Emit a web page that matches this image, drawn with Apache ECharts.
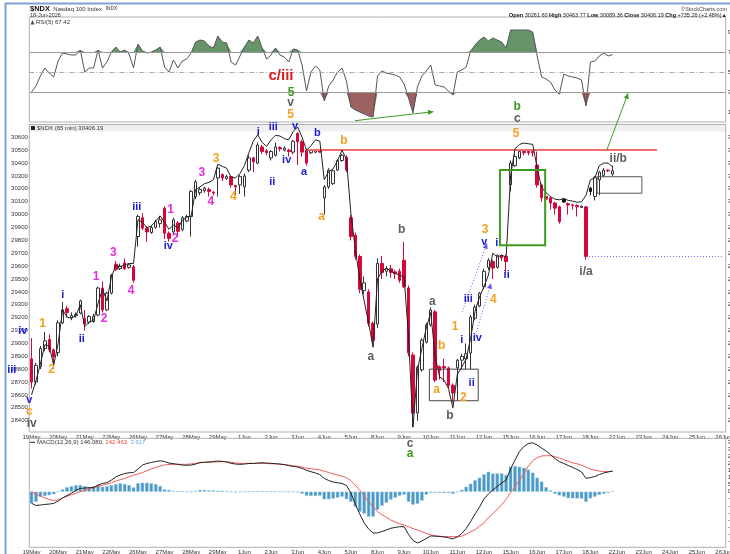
<!DOCTYPE html>
<html><head><meta charset="utf-8">
<script src="https://cdn.jsdelivr.net/npm/echarts@6/dist/echarts.min.js"></script>
<style>html,body{margin:0;padding:0;background:#fff;}#c{width:730px;height:554px;}</style>
</head><body><div id="c"></div>
<script>
// ---------------- DATA ----------------
const dayLabels = ['19May','20May','21May','22May','26May','27May','28May','29May','1Jun','2Jun','3Jun','4Jun','5Jun','8Jun','9Jun','10Jun','11Jun','12Jun','15Jun','16Jun','17Jun','18Jun','22Jun','23Jun','24Jun','25Jun','26Jun'];
const barsPerDay = 6;
// 65-min candles: [open, close, low, high]
const ohlc = [
[28880,28700,28650,29040],[28700,28830,28680,28850],[28820,28960,28800,28980],[28960,29020,28940,29090],[29030,28950,28930,29070],[28950,28895,28800,28960],
[28930,29160,28900,29180],[29160,29260,29150,29320],[29270,29240,29200,29290],[29200,29215,29180,29240],[29215,29225,29200,29240],[29235,29330,29225,29340],
[29195,29150,29100,29260],[29165,29210,29150,29220],[29170,29210,29160,29230],[29220,29430,29210,29440],[29430,29260,29240,29480],[29260,29390,29250,29400],
[29390,29530,29380,29540],[29615,29575,29560,29640],[29580,29600,29570,29620],[29625,29580,29570,29660],[29590,29610,29580,29620],[29595,29490,29470,29610],
[29830,29985,29750,30000],[29975,29895,29880,30010],[29895,29865,29790,29910],[29860,29900,29850,29915],[29900,29945,29890,29960],[29930,29960,29900,29990],
[30050,29855,29810,30065],[29855,29815,29790,29870],[29865,29960,29850,29975],[29935,29870,29830,29950],[29885,29975,29870,29990],[29950,29985,29940,30000],
[29985,30180,29830,30190],[30140,30255,30120,30270],[30170,30195,30150,30210],[30185,30205,30170,30215],[30195,30180,30140,30210],[30175,30168,30150,30180],
[30285,30360,30140,30370],[30310,30285,30260,30320],[30280,30295,30270,30310],[30295,30230,30210,30300],[30225,30215,30150,30230],[30230,30295,30160,30310],
[30215,30300,30140,30320],[30345,30440,30330,30460],[30440,30410,30330,30450],[30400,30540,30390,30560],[30525,30490,30470,30540],[30495,30480,30460,30510],
[30440,30490,30420,30500],[30460,30525,30450,30560],[30520,30510,30490,30530],[30500,30515,30490,30530],[30500,30490,30450,30510],[30485,30570,30470,30580],
[30630,30565,30385,30640],[30565,30485,30450,30580],[30500,30400,30380,30510],[30480,30500,30470,30510],[30485,30500,30475,30505],[30500,30485,30480,30510],
[30130,30215,30000,30230],[30215,30345,30200,30360],[30240,30340,30230,30350],[30345,30420,30340,30430],[30420,30460,30410,30470],[30445,30345,30330,30460],
[29975,29830,29800,30000],[29840,29675,29650,29860],[29675,29420,29390,29690],[29410,29470,29380,29520],[29400,29155,29130,29420],[29155,29025,28990,29170],
[29150,29620,29120,29660],[29620,29550,29500,29680],[29560,29580,29520,29600],[29580,29550,29510,29610],[29555,29540,29500,29570],[29560,29490,29470,29580],
[29645,29440,29430,29790],[29430,28925,28900,29450],[28910,28460,28350,28930],[28460,28815,28400,28830],[28795,29025,28780,29040],[29010,29145,29000,29160],
[29145,29260,29130,29280],[29245,28715,28700,29260],[28820,28790,28720,28830],[28820,28810,28700,28880],[28810,28675,28650,28820],[28675,28615,28540,28690],
[28810,28870,28560,28880],[28870,28900,28800,28920],[28880,28920,28800,29000],[28925,29205,28800,29220],[29195,29280,29180,29300],[29290,29390,29280,29400],
[29440,29560,29420,29580],[29590,29645,29570,29660],[29635,29585,29500,29650],[29590,29685,29580,29690],[29680,29665,29640,29690],[29675,29635,29545,29690],
[30230,30400,30180,30420],[30380,30450,30370,30470],[30440,30490,30430,30500],[30490,30480,30460,30500],[30490,30480,30460,30500],[30490,30480,30450,30495],
[30385,30230,30210,30490],[30230,30130,30100,30240],[30140,30120,30060,30150],[30130,30090,30040,30140],[30090,30050,30000,30100],[30060,29945,29930,30070],
[30120,30098,30090,30125],[30085,30075,30000,30095],[30075,30070,30040,30085],[30070,30060,29985,30080],[30055,30065,30050,30070],[30060,29675,29650,30065],
[30205,30180,30150,30215],[30140,30290,30110,30300],[30270,30330,30150,30340],[30305,30345,30290,30360],[30345,30340,30330,30350],[30315,30340,30300,30380]
];
// overlay price line drawn on the candles
const priceLine = [
28600,28710,28840,28990,28980,28830, 29000,29260,29205,29195,29215,29300, 29130,29165,29180,29310,29420,29330,
29515,29605,29595,29610,29620,29620, 29960,29940,29900,29910,29950,29990, 29940,29885,29920,29895,29955,29980,
29990,30195,30215,30240,30250,30270, 30390,30375,30360,30290,30285,30320, 30380,30480,30570,30620,30560,30530,
30580,30615,30610,30590,30580,30645, 30680,30600,30500,30535,30580,30570, 30270,30335,30355,30420,30500,30430,
30010,29730,29500,29330,29160,28970, 29500,29560,29585,29560,29545,29530, 29515,29050,28350,28790,28960,29120,
29240,28900,28740,28715,28650,28500, 28760,28815,28880,29040,29250,29360, 29440,29530,29700,29670,29685,29670,
30300,30510,30545,30555,30550,30545, 30360,30210,30170,30140,30120,30115, 30125,30110,30105,30095,30100,30150,
30270,30285,30380,30400,30400,30370];
const rsi = [
30,36,46,54,49,45, 61,69,68,67,67,72, 50,54,54,72,54,60, 70,75,70,72,68,54, 78,71,69,70,72,75, 55,50,62,54,61,63,
69,80,82,81,76,74, 86,80,79,60,57,66, 75,82,79,86,74,63, 67,74,67,65,60,73, 72,57,31,50,56,52, 21,36,42,50,54,41,
15,12,10,8,6,5, 46,51,49,48,47,45, 38,24,9,35,46,51, 57,37,36,35,31,27, 50,52,55,71,77,82, 85,81,84,82,80,74,
92,92,92,92,92,90, 66,45,43,40,32,28, 48,46,45,44,42,16, 60,61,66,69,66,67.42];
const macdLine = [
-82,-97,-94,-90,-87,-83, -66,-44,-27,-11,10,23, 26,28,30,47,58,64, 82,104,118,128,134,135, 160,188,199,206,213,218,
213,202,198,193,188,186, 188,195,206,208,209,213, 216,214,209,200,195,193, 195,199,199,202,204,202, 200,198,195,191,184,178,
174,164,151,141,132,121, 94,79,68,63,58,44, -9,-87,-157,-221,-263,-291, -291,-281,-270,-258,-252,-247, -247,-302,-344,-362,-348,-330,
-312,-314,-316,-319,-325,-333, -319,-295,-259,-210,-157,-108, -51,-16,12,37,61,82, 160,223,283,319,340,345, 329,308,287,262,234,212,
199,185,171,157,139,94, 100,107,121,132,139,146.08];
const signalLine = [
0,-16,-31,-44,-55,-62, -58,-44,-32,-21,-11,0, 9,20,28,37,46,54, 63,74,85,94,106,116, 126,135,148,161,173,180,
189,192,193,193,193,193, 196,200,204,207,208,209, 211,212,212,208,203,200, 200,200,200,200,200,199, 197,196,194,192,188,183,
180,173,166,162,159,154, 145,135,126,117,109,99, 78,46,11,-28,-71,-106, -141,-162,-180,-200,-214,-226, -235,-247,-261,-270,-282,-295,
-305,-310,-314,-317,-317,-317, -317,-314,-300,-282,-268,-243, -221,-183,-155,-123,-92,-53, -7,35,81,127,180,219, 240,252,254,254,247,238,
226,215,204,197,187,173, 159,152,145,142,143,142.463];
const histogram = [
-82,-71,-35,-30,-25,-18, 0,16,32,39,46,47, 39,32,39,46,35,39, 46,54,59,54,47,30, 59,63,63,59,54,40, 16,12,5,2,0,-2,
-2,5,12,12,9,9, 7,7,5,-2,-5,-2, 0,2,4,4,5,2, 2,2,0,0,-2,-2, -5,-14,-28,-30,-30,-28, -53,-53,-49,-42,-35,-53,
-71,-106,-141,-155,-176,-176, -127,-99,-78,-56,-42,-28, -21,-71,-92,-85,-63,-21, -7,-7,-7,-9,-9,-14, -2,14,35,56,81,99,
123,141,129,129,129,118, 176,181,176,169,155,134, 99,71,32,9,-14,-26, -35,-46,-47,-47,-49,-71, -47,-35,-23,-14,-7,3.617];
// Elliott-wave annotations: [text, colour key, bar index, value, panel]
const annotations = [
['iii','blue',-4.46,28794,'p'],['iv','blue',-1.98,29099,'p'],['v','blue',-0.5,28561,'p'],['c','orange',-0.5,28470,'p'],['iv','grey',0.05,28380,'p'],
['1','orange',2.52,29151,'p'],['2','orange',4.55,28794,'p'],['i','blue',7.03,29376,'p'],['ii','blue',11.32,29032,'p'],
['1','magenta',14.54,29518,'p'],['2','magenta',16.34,29195,'p'],['3','magenta',18.44,29704,'p'],['4','magenta',22.43,29409,'p'],
['iii','blue',23.72,30057,'p'],['1','magenta',31.38,30036,'p'],['iv','blue',30.84,29756,'p'],['2','magenta',32.35,29816,'p'],
['3','magenta',38.37,30325,'p'],['4','magenta',40.4,30100,'p'],['3','orange',41.59,30437,'p'],['4','orange',45.49,30137,'p'],
['i','blue',51.13,30644,'p'],['iii','blue',54.51,30678,'p'],['ii','blue',54.28,30256,'p'],['iv','blue',57.53,30424,'p'],['v','blue',59.4,30688,'p'],
['b','blue',64.43,30631,'p'],['a','blue',61.43,30329,'p'],['b','orange',70.45,30574,'p'],['a','orange',65.42,29984,'p'],
['b','grey',83.45,29881,'p'],['a','grey',76.47,28897,'p'],['a','grey',90.35,29324,'p'],['b','orange',92.47,28980,'p'],['a','orange',91.34,28638,'p'],
['1','orange',95.47,29130,'p'],['i','blue',96.98,29027,'p'],['2','orange',97.34,28579,'p'],['b','grey',94.34,28436,'p'],['ii','blue',99.23,28695,'p'],
['iii','blue',98.47,29343,'p'],['iv','blue',100.5,29040,'p'],['3','orange',102.23,29881,'p'],['v','blue',102.07,29790,'p'],['i','blue',104.87,29782,'p'],
['ii','blue',107.12,29531,'p'],['4','orange',104.1,29343,'p'],['5','orange',109.22,30626,'p'],['i/a','grey',125,29557,'p'],['ii/b','grey',132.28,30437,'p'],
['c/iii','red',56.24,46,'r'],['5','green',58.5,29.5,'r'],['v','grey',58.43,19.5,'r'],['5','orange',58.43,7,'r'],['b','green',109.5,15,'r'],['c','grey',109.5,3,'r'],
['c','grey',85.33,341,'m'],['a','green',85.33,266,'m']
];

// ---------------- CHART ----------------
const colors = {blue:'#1c1cd6',orange:'#f5a11e',magenta:'#e22ee0',grey:'#5e5e5e',green:'#3d9a1f',red:'#dd1f1f'};
const cats = [];
dayLabels.forEach((d,i)=>{ for(let k=0;k<barsPerDay;k++){ if(i===dayLabels.length-1 && k>0) break; cats.push(d+'|'+k);} });
const nCat = cats.length - 1;
const blackBars = [120,126];
const candleData = ohlc.map((r,i)=> blackBars.indexOf(i)>=0 ? {value:r,itemStyle:{color:'#111',color0:'#111',borderColor:'#111',borderColor0:'#111'}} : r);
const FONT = '"Liberation Sans", Arial, sans-serif';
const chart = echarts.init(document.getElementById('c'), null, {renderer:'canvas'});

const xAx = [0,1,2].map(g=>({type:'category',gridIndex:g,data:cats,boundaryGap:true,
  axisLine:{show:false},axisTick:{show:false},splitLine:{show:false},
  axisLabel:{show:g>0,interval:5,formatter:v=>v.split('|')[0],fontSize:6,color:'#333',margin:1,fontFamily:FONT}}));
const yBase = {splitLine:{show:false},axisLine:{show:false},axisTick:{show:false}};
const plain = v=>String(v);
const gridBase = {left:29.3,right:4.3,containLabel:false,outerBoundsMode:'none'};
const option = {
  animation:false,
  grid:[
    Object.assign({top:17,height:105},gridBase),
    Object.assign({top:124.42,height:309.16},gridBase),
    Object.assign({top:435,height:113.4},gridBase)
  ],
  xAxis:xAx,
  yAxis:[
    Object.assign({gridIndex:0,position:'right',min:0,max:105,interval:10,
      axisLabel:{formatter:v=>(v%20===10?String(v):''),fontSize:6,color:'#333',margin:2,fontFamily:FONT,showMaxLabel:false}},yBase),
    Object.assign({gridIndex:1,position:'left',min:28300,max:30700,interval:100,
      axisLabel:{formatter:plain,fontSize:6,color:'#333',margin:1.5,showMinLabel:false,showMaxLabel:false,fontFamily:FONT}},yBase),
    Object.assign({gridIndex:2,position:'right',min:-400,max:400,interval:50,
      axisLabel:{formatter:plain,fontSize:6,color:'#333',margin:2,showMinLabel:false,showMaxLabel:false,fontFamily:FONT}},yBase),
    Object.assign({gridIndex:1,position:'right',min:28300,max:30700,interval:100,
      axisLabel:{formatter:plain,fontSize:6,color:'#333',margin:2,showMinLabel:false,showMaxLabel:false,fontFamily:FONT}},yBase)
  ],
  series:[
    {type:'line',xAxisIndex:0,yAxisIndex:0,data:rsi.map(v=>Math.max(v,70)),symbol:'none',
      lineStyle:{width:0,opacity:0},areaStyle:{origin:70,color:'#66956a',opacity:1},z:2,silent:true},
    {type:'line',xAxisIndex:0,yAxisIndex:0,data:rsi.map(v=>Math.min(v,30)),symbol:'none',
      lineStyle:{width:0,opacity:0},areaStyle:{origin:30,color:'#9c6262',opacity:1},z:2,silent:true},
    {type:'line',xAxisIndex:0,yAxisIndex:0,data:rsi,symbol:'none',lineStyle:{color:'#555',width:1},z:4,
      markLine:{silent:true,symbol:'none',label:{show:false},
        data:[{yAxis:70,lineStyle:{color:'#999',width:1,type:'solid'}},{yAxis:50,lineStyle:{color:'#aaa',width:1,type:[5,2,1,2]}},{yAxis:30,lineStyle:{color:'#999',width:1,type:'solid'}}]}},
    {type:'candlestick',xAxisIndex:1,yAxisIndex:1,data:candleData,barWidth:3,
      itemStyle:{color:'#ffffff',color0:'#d6083b',borderColor:'#333',borderColor0:'#d6083b',borderWidth:1},z:3,
      markLine:{silent:true,symbol:'none',label:{show:false},
        data:[[{coord:[62,30500]},{coord:[141,30500],lineStyle:{color:'#f26c6c',width:2,type:'solid'}}],
              [{coord:[125,29673]},{coord:[156,29673],lineStyle:{color:'#6b6bf0',width:1,type:[1,2]}}]]}},
    {type:'line',xAxisIndex:1,yAxisIndex:1,data:priceLine,symbol:'none',lineStyle:{color:'#222',width:1},z:5},
    {type:'bar',xAxisIndex:2,yAxisIndex:2,data:histogram,barWidth:3.4,itemStyle:{color:'#4a98c6',borderColor:'#8cc0dd',borderWidth:0.5},z:2},
    {type:'line',xAxisIndex:2,yAxisIndex:2,data:signalLine,symbol:'none',lineStyle:{color:'#f25a5a',width:1},z:3},
    {type:'line',xAxisIndex:2,yAxisIndex:2,data:macdLine,symbol:'none',lineStyle:{color:'#222',width:1},z:4}
  ]
};
chart.setOption(option);

// ------------ overlays positioned through the chart's own scales ------------
const gIdx = {r:0,p:1,m:2};
function pt(panel, idx, val){
  const g = gIdx[panel];
  const xa = chart.convertToPixel({xAxisIndex:g}, 0);
  const xb = chart.convertToPixel({xAxisIndex:g}, nCat);
  return [xa + (xb-xa)*idx/nCat, chart.convertToPixel({yAxisIndex:g}, val)];
}
function txt(x,y,text,fill,font,align){
  return {type:'text',silent:true,z:50,style:{x:x,y:y,text:text,fill:fill,font:font,
    textAlign:align||'center',textVerticalAlign:'middle',align:align||'center',verticalAlign:'middle'}};
}
function arrow(p0,p1,color,w,dash){
  const els=[{type:'line',silent:true,z:40,shape:{x1:p0[0],y1:p0[1],x2:p1[0],y2:p1[1]},style:{stroke:color,lineWidth:w,lineDash:dash||null}}];
  const a=Math.atan2(p1[1]-p0[1],p1[0]-p0[0]), L=6, s=0.45;
  els.push({type:'polygon',silent:true,z:41,shape:{points:[[p1[0],p1[1]],[p1[0]-L*Math.cos(a-s),p1[1]-L*Math.sin(a-s)],[p1[0]-L*Math.cos(a+s),p1[1]-L*Math.sin(a+s)]]},style:{fill:color}});
  return els;
}
function box(panel,i0,i1,v0,v1,color,w){
  const a=pt(panel,i0,v0), b=pt(panel,i1,v1);
  return {type:'rect',silent:true,z:30,shape:{x:Math.min(a[0],b[0]),y:Math.min(a[1],b[1]),width:Math.abs(b[0]-a[0]),height:Math.abs(b[1]-a[1])},style:{fill:'none',stroke:color,lineWidth:w}};
}
const els = [];
// frames
els.push({type:'rect',silent:true,z:1,shape:{x:29.3,y:17,width:696.4,height:105},style:{fill:'none',stroke:'#b0b0b0',lineWidth:1}});
els.push({type:'rect',silent:true,z:1,shape:{x:29.3,y:124.5,width:696.4,height:307.5},style:{fill:'none',stroke:'#b0b0b0',lineWidth:1}});
els.push({type:'rect',silent:true,z:1,shape:{x:29.3,y:438.3,width:696.4,height:109},style:{fill:'none',stroke:'#b0b0b0',lineWidth:1}});
els.push({type:'rect',silent:true,z:0,shape:{x:29.3,y:124.5,width:696.4,height:7},style:{fill:'#f0f0f0'}});
els.push({type:'line',silent:true,z:60,shape:{x1:5.5,y1:3,x2:5.5,y2:554},style:{stroke:'#7da2d6',lineWidth:2}});
els.push({type:'line',silent:true,z:60,shape:{x1:5,y1:3.5,x2:730,y2:3.5},style:{stroke:'#7da2d6',lineWidth:2}});
// headers
els.push({type:'text',silent:true,z:50,style:{x:30,y:9,text:'{b|$NDX} {n|Nasdaq 100 Index} {s|INDX}',verticalAlign:'middle',textVerticalAlign:'middle',
  rich:{b:{font:'bold 7.5px '+FONT,fill:'#111'},n:{font:'6px '+FONT,fill:'#333'},s:{font:'5px '+FONT,fill:'#333'}}}});
els.push(txt(30,15.5,'18-Jun-2026','#333','5.5px '+FONT,'left'));
els.push({type:'polygon',silent:true,z:50,shape:{points:[[30.5,24.5],[32.5,20],[34.5,24.5]]},style:{fill:'#3b5e3b'}});
els.push(txt(36,22.3,'RSI(5) 67.42','#333','6px '+FONT,'left'));
els.push({type:'rect',silent:true,z:50,shape:{x:31,y:126,width:4,height:4},style:{fill:'#222'}});
els.push(txt(37,128.3,'$NDX (65 min) 30406.19','#333','6px '+FONT,'left'));
els.push({type:'line',silent:true,z:50,shape:{x1:30,y1:442.3,x2:35,y2:442.3},style:{stroke:'#222',lineWidth:1}});
els.push({type:'text',silent:true,z:50,style:{x:37,y:442.3,text:'MACD(12,26,9) {k|146.080,} {r|142.463,} {c|3.617}',verticalAlign:'middle',textVerticalAlign:'middle',
  font:'6px '+FONT,fill:'#333',rich:{k:{fill:'#333',font:'6px '+FONT},r:{fill:'#f04040',font:'6px '+FONT},c:{fill:'#63b0db',font:'6px '+FONT}}}});
els.push(txt(727,9,'\u00a9StockCharts.com','#444','5.5px '+FONT,'right'));
els.push({type:'text',silent:true,z:50,style:{x:727,y:15.3,align:'right',textAlign:'right',verticalAlign:'middle',textVerticalAlign:'middle',
  text:'{b|Open} 30261.60 {b|High} 30463.77 {b|Low} 30089.36 {b|Close} 30406.19 {b|Chg} +735.26 (+2.48%)\u25b2',
  font:'5.5px '+FONT,fill:'#222',rich:{b:{font:'bold 5.5px '+FONT,fill:'#111'}}}});
// boxes
els.push(box('p',105.6,115.8,30346,29762,'#3d9a1f',2));
els.push(box('p',127.5,137.6,30294,30166,'#555',1));
els.push(box('p',89.7,100.7,28800,28555,'#444',1));
// arrows and trend lines
arrow(pt('r',72.9,1.3),pt('r',90.6,10.3),'#3d9a1f',1).forEach(e=>els.push(e));
arrow(pt('p',129.7,30502),pt('r',134.5,28.7),'#3d9a1f',1).forEach(e=>els.push(e));
arrow(pt('p',97.05,29242),pt('p',102.7,29778),'#5a5af0',1,[1,2]).forEach(e=>els.push(e));
arrow(pt('p',99.75,29024),pt('p',103.6,29467),'#5a5af0',1,[1,2]).forEach(e=>els.push(e));
// wave labels
annotations.forEach(a=>{
  const p = pt(a[4],a[2],a[3]);
  let f = 'bold 12px '+FONT;
  if(a[1]==='blue') f='bold 11px '+FONT;
  if(a[0]==='c/iii') f='bold 15px '+FONT;
  els.push(txt(p[0],p[1],a[0],colors[a[1]],f));
});
chart.setOption({graphic:{elements:els}});
</script>
</body></html>
